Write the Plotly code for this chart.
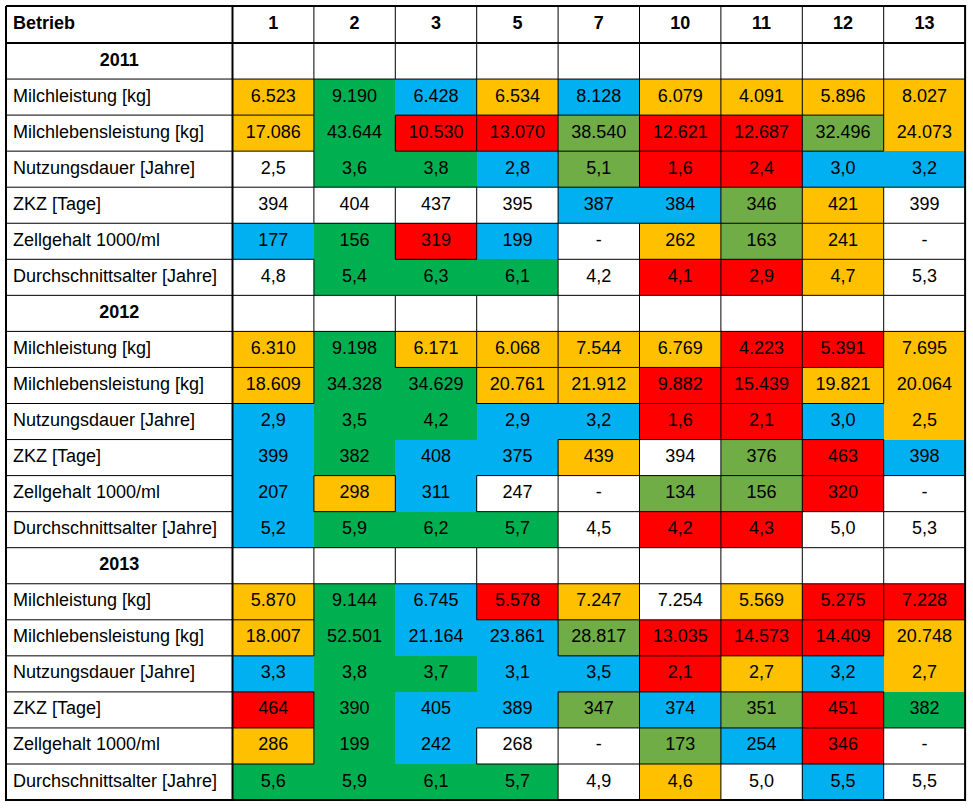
import plotly.graph_objects as go

# ---------------- data ----------------
betriebe = ["1", "2", "3", "5", "7", "10", "11", "12", "13"]
jahre = ["2011", "2012", "2013"]
merkmale = ["Milchleistung [kg]", "Milchlebensleistung [kg]", "Nutzungsdauer [Jahre]",
            "ZKZ [Tage]", "Zellgehalt 1000/ml", "Durchschnittsalter [Jahre]"]
formate = ["kg", "kg", "dez", "int", "int", "dez"]

# rating categories: W = none, Y = yellow, G = green, O = olive green, B = blue, R = red
milch_2011 = [6523, 9190, 6428, 6534, 8128, 6079, 4091, 5896, 8027]
milch_2011_k = ["Y", "G", "B", "Y", "B", "Y", "Y", "Y", "Y"]
leben_2011 = [17086, 43644, 10530, 13070, 38540, 12621, 12687, 32496, 24073]
leben_2011_k = ["Y", "G", "R", "R", "O", "R", "R", "O", "Y"]
nutz_2011 = [2.5, 3.6, 3.8, 2.8, 5.1, 1.6, 2.4, 3.0, 3.2]
nutz_2011_k = ["W", "G", "G", "B", "O", "R", "R", "B", "B"]
zkz_2011 = [394, 404, 437, 395, 387, 384, 346, 421, 399]
zkz_2011_k = ["W", "W", "W", "W", "B", "B", "O", "Y", "W"]
zell_2011 = [177, 156, 319, 199, None, 262, 163, 241, None]
zell_2011_k = ["B", "G", "R", "B", "W", "Y", "O", "Y", "W"]
alter_2011 = [4.8, 5.4, 6.3, 6.1, 4.2, 4.1, 2.9, 4.7, 5.3]
alter_2011_k = ["W", "G", "G", "G", "W", "R", "R", "Y", "W"]

milch_2012 = [6310, 9198, 6171, 6068, 7544, 6769, 4223, 5391, 7695]
milch_2012_k = ["Y", "G", "Y", "Y", "Y", "Y", "R", "R", "Y"]
leben_2012 = [18609, 34328, 34629, 20761, 21912, 9882, 15439, 19821, 20064]
leben_2012_k = ["Y", "G", "G", "Y", "Y", "R", "R", "Y", "Y"]
nutz_2012 = [2.9, 3.5, 4.2, 2.9, 3.2, 1.6, 2.1, 3.0, 2.5]
nutz_2012_k = ["B", "G", "G", "B", "B", "R", "R", "B", "Y"]
zkz_2012 = [399, 382, 408, 375, 439, 394, 376, 463, 398]
zkz_2012_k = ["B", "G", "B", "B", "Y", "W", "O", "R", "B"]
zell_2012 = [207, 298, 311, 247, None, 134, 156, 320, None]
zell_2012_k = ["B", "Y", "B", "W", "W", "O", "O", "R", "W"]
alter_2012 = [5.2, 5.9, 6.2, 5.7, 4.5, 4.2, 4.3, 5.0, 5.3]
alter_2012_k = ["B", "G", "G", "G", "W", "R", "R", "W", "W"]

milch_2013 = [5870, 9144, 6745, 5578, 7247, 7254, 5569, 5275, 7228]
milch_2013_k = ["Y", "G", "B", "R", "Y", "W", "Y", "R", "R"]
leben_2013 = [18007, 52501, 21164, 23861, 28817, 13035, 14573, 14409, 20748]
leben_2013_k = ["Y", "G", "B", "B", "O", "R", "R", "R", "Y"]
nutz_2013 = [3.3, 3.8, 3.7, 3.1, 3.5, 2.1, 2.7, 3.2, 2.7]
nutz_2013_k = ["B", "G", "G", "B", "B", "R", "Y", "B", "Y"]
zkz_2013 = [464, 390, 405, 389, 347, 374, 351, 451, 382]
zkz_2013_k = ["R", "G", "B", "B", "O", "B", "O", "R", "G"]
zell_2013 = [286, 199, 242, 268, None, 173, 254, 346, None]
zell_2013_k = ["Y", "G", "B", "W", "W", "O", "B", "R", "W"]
alter_2013 = [5.6, 5.9, 6.1, 5.7, 4.9, 4.6, 5.0, 5.5, 5.5]
alter_2013_k = ["G", "G", "G", "G", "W", "Y", "W", "B", "W"]

# ---------------- styles ----------------
farben = {"W": "#FFFFFF", "Y": "#FFC000", "G": "#00B050", "O": "#70AD47", "B": "#00B0F0", "R": "#FF0000"}
codes = ["W", "Y", "G", "O", "B", "R"]
FONT = "Liberation Sans, Arial, sans-serif"
FS = 18

bloecke = {
    "2011": [(milch_2011, milch_2011_k), (leben_2011, leben_2011_k), (nutz_2011, nutz_2011_k),
             (zkz_2011, zkz_2011_k), (zell_2011, zell_2011_k), (alter_2011, alter_2011_k)],
    "2012": [(milch_2012, milch_2012_k), (leben_2012, leben_2012_k), (nutz_2012, nutz_2012_k),
             (zkz_2012, zkz_2012_k), (zell_2012, zell_2012_k), (alter_2012, alter_2012_k)],
    "2013": [(milch_2013, milch_2013_k), (leben_2013, leben_2013_k), (nutz_2013, nutz_2013_k),
             (zkz_2013, zkz_2013_k), (zell_2013, zell_2013_k), (alter_2013, alter_2013_k)],
}


def fmt(v, art):
    if v is None:
        return "-"
    if art == "kg":
        return f"{v:,}".replace(",", ".")
    if art == "dez":
        return f"{v:.1f}".replace(".", ",")
    return str(v)


# build row structure
rows = []  # each: (label, label_kind, [texts], [codes])
rows.append(("<b>Betrieb</b>", "left", [f"<b>{b}</b>" for b in betriebe], ["W"] * len(betriebe)))
for j in jahre:
    rows.append((f"<b>{j}</b>", "center", [""] * len(betriebe), ["W"] * len(betriebe)))
    for name, art, (vals, ks) in zip(merkmale, formate, bloecke[j]):
        rows.append((name, "left", [fmt(v, art) for v in vals], ks))

n_rows = len(rows)
n_cols = len(betriebe) + 1

# geometry (pixels of the 973x808 canvas)
left, top = 6.0, 6.0
label_w, col_w = 226.5, 81.4
head_h, row_h = 37.0, 36.05
x_edges = [left, left + label_w] + [left + label_w + col_w * (k + 1) for k in range(len(betriebe))]
y_edges = [top, top + head_h] + [top + head_h + row_h * (k + 1) for k in range(n_rows - 1)]

z = [[0] + [codes.index(k) for k in r[3]] for r in rows]
cell_code = [["W"] + list(r[3]) for r in rows]
colorscale = [[i / (len(codes) - 1), farben[c]] for i, c in enumerate(codes)]

fig = go.Figure()
fig.add_trace(go.Heatmap(
    x=x_edges, y=y_edges, z=z, zmin=0, zmax=len(codes) - 1,
    colorscale=colorscale, showscale=False, hoverinfo="skip", zsmooth=False,
))


def bordered(i, j):
    c = cell_code[i][j]
    if c in ("G", "B"):
        return False
    if c == "Y" and j == n_cols - 1:
        return False
    return True


lx, ly = [], []
# horizontal internal lines
for i in range(2, n_rows):
    for j in range(n_cols):
        if bordered(i - 1, j) or bordered(i, j):
            lx += [x_edges[j], x_edges[j + 1], None]
            ly += [y_edges[i], y_edges[i], None]
# vertical internal lines
for j in range(2, n_cols):
    for i in range(n_rows):
        if bordered(i, j - 1) or bordered(i, j):
            lx += [x_edges[j], x_edges[j], None]
            ly += [y_edges[i], y_edges[i + 1], None]
fig.add_trace(go.Scatter(x=lx, y=ly, mode="lines", line=dict(color="#000000", width=1),
                         hoverinfo="skip", showlegend=False))

# thick lines: outer frame, header bottom, label column edge
tx = [x_edges[0], x_edges[-1], x_edges[-1], x_edges[0], x_edges[0], None,
      x_edges[0], x_edges[-1], None, x_edges[1], x_edges[1], None]
ty = [y_edges[0], y_edges[0], y_edges[-1], y_edges[-1], y_edges[0], None,
      y_edges[1], y_edges[1], None, y_edges[0], y_edges[-1], None]
fig.add_trace(go.Scatter(x=tx, y=ty, mode="lines", line=dict(color="#000000", width=2),
                         hoverinfo="skip", showlegend=False))

# texts
cx, cy, ct = [], [], []
lxl, lyl, ltl = [], [], []
for i, (lab, kind, texts, _) in enumerate(rows):
    ymid = (y_edges[i] + y_edges[i + 1]) / 2
    if kind == "left":
        lxl.append(x_edges[0] + 7)
        lyl.append(ymid)
        ltl.append(lab)
    else:
        cx.append((x_edges[0] + x_edges[1]) / 2)
        cy.append(ymid)
        ct.append(lab)
    for j, t in enumerate(texts):
        if t:
            cx.append((x_edges[j + 1] + x_edges[j + 2]) / 2)
            cy.append(ymid)
            ct.append(t)

fig.add_trace(go.Scatter(x=cx, y=cy, text=ct, mode="text", textposition="middle center",
                         textfont=dict(family=FONT, size=FS, color="#000000"),
                         hoverinfo="skip", showlegend=False))
fig.add_trace(go.Scatter(x=lxl, y=lyl, text=ltl, mode="text", textposition="middle right",
                         textfont=dict(family=FONT, size=FS, color="#000000"),
                         hoverinfo="skip", showlegend=False))

fig.update_xaxes(range=[0, 973], visible=False, showgrid=False, zeroline=False, fixedrange=True)
fig.update_yaxes(range=[808, 0], visible=False, showgrid=False, zeroline=False, fixedrange=True)
fig.update_layout(width=973, height=808, margin=dict(l=0, r=0, t=0, b=0),
                  paper_bgcolor="white", plot_bgcolor="white", showlegend=False)

fig.write_html("out.html", config={"displayModeBar": False},
               post_script="document.body.style.margin='0px';document.body.style.overflow='hidden';")
